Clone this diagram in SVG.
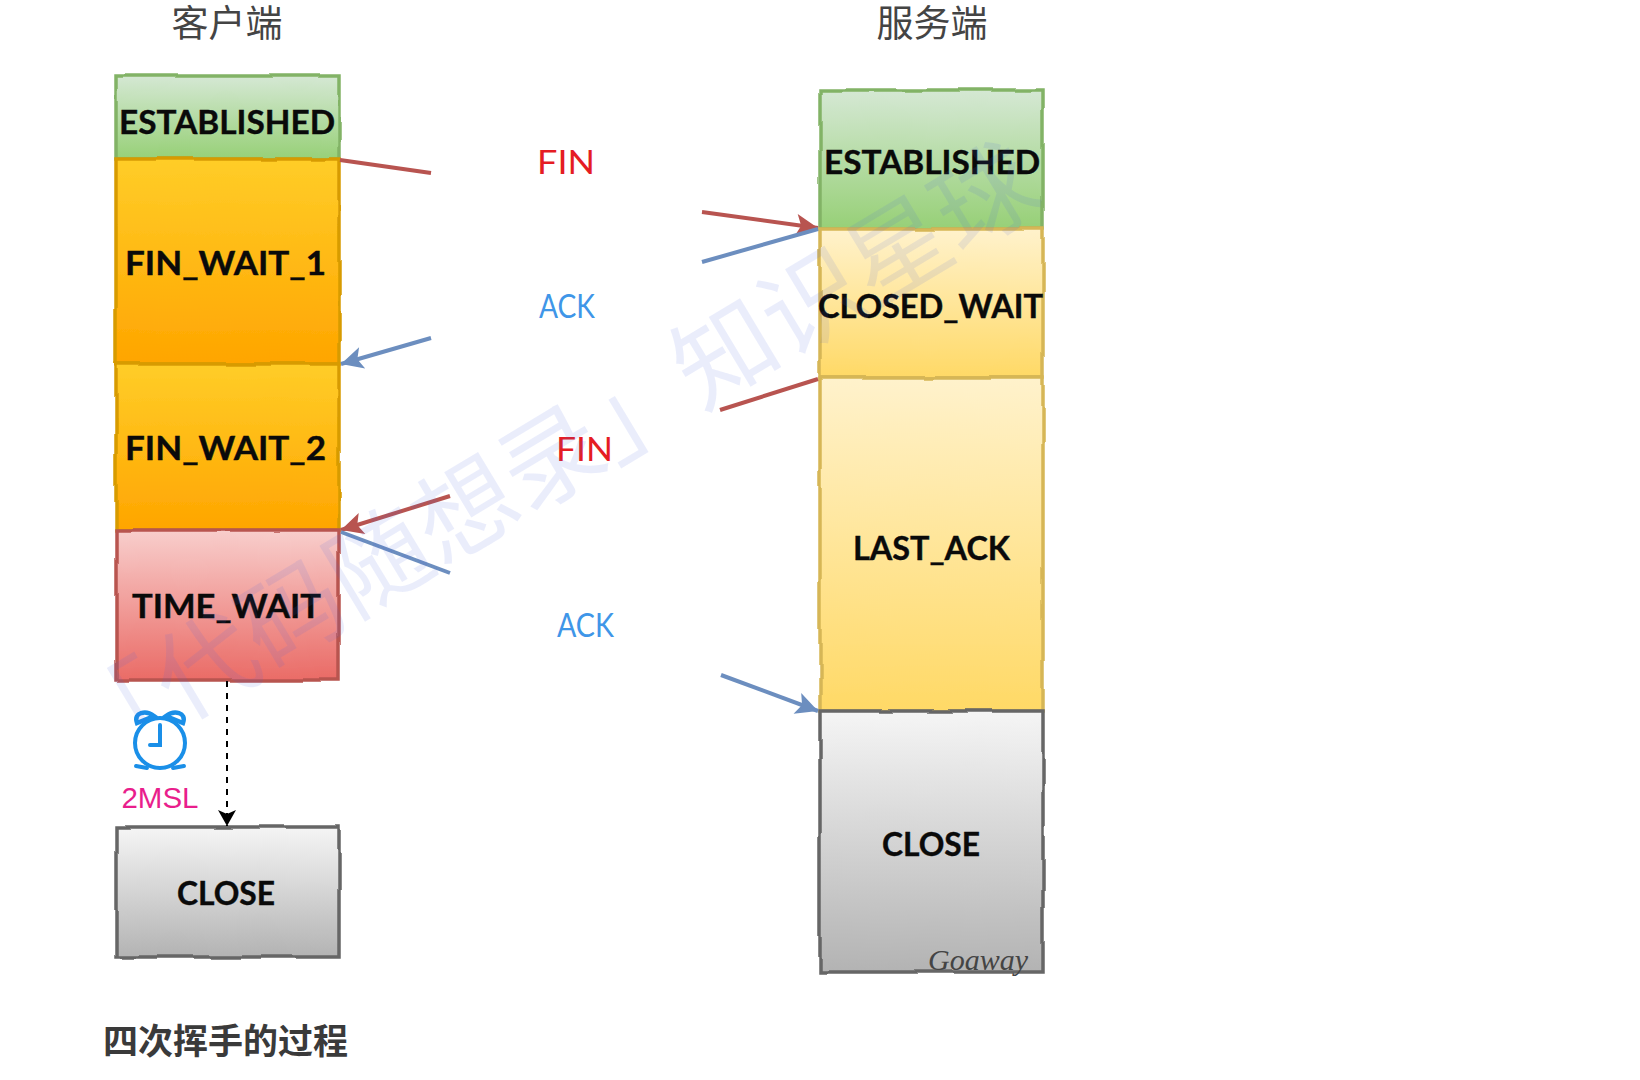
<svg xmlns="http://www.w3.org/2000/svg" width="1640" height="1080" viewBox="0 0 1640 1080">
<style>
.st{font-family:"Comic Sans MS","Lato","DejaVu Sans",sans-serif;font-weight:700;font-size:33px;fill:#0a0a0a;stroke:#0a0a0a;stroke-width:.4px}
.msg{font-family:"Comic Sans MS","Lato","DejaVu Sans",sans-serif;font-size:32px}
.head{font-family:"Noto Sans CJK SC",sans-serif;font-size:37px;fill:#444;text-anchor:middle}
.box{stroke-width:3.5;filter:url(#rough)}
.red{stroke:#b85450;stroke-width:4;fill:none}
.blue{stroke:#6c8ebf;stroke-width:4;fill:none}
</style>
<defs>
<filter id="rough" x="-5%" y="-5%" width="110%" height="110%"><feTurbulence type="fractalNoise" baseFrequency="0.02" numOctaves="1" seed="4"/><feDisplacementMap in="SourceGraphic" scale="5"/></filter>
<linearGradient id="gGreen" x1="0" y1="0" x2="0" y2="1"><stop offset="0" stop-color="#d5e8d4"/><stop offset="1" stop-color="#97d077"/></linearGradient>
<linearGradient id="gOrange" x1="0" y1="0" x2="0" y2="1"><stop offset="0" stop-color="#ffcd28"/><stop offset="1" stop-color="#ffa500"/></linearGradient>
<linearGradient id="gYellow" x1="0" y1="0" x2="0" y2="1"><stop offset="0" stop-color="#fff2cc"/><stop offset="1" stop-color="#ffd966"/></linearGradient>
<linearGradient id="gRed" x1="0" y1="0" x2="0" y2="1"><stop offset="0" stop-color="#f8cecc"/><stop offset="1" stop-color="#ea6b66"/></linearGradient>
<linearGradient id="gGray" x1="0" y1="0" x2="0" y2="1"><stop offset="0" stop-color="#f5f5f5"/><stop offset="1" stop-color="#b3b3b3"/></linearGradient>
<marker id="hRed" markerUnits="userSpaceOnUse" markerWidth="28" markerHeight="26" refX="24" refY="13" orient="auto"><path d="M2,2 L24,13 L2,24 L7,13 Z" fill="#b85450"/></marker>
<marker id="hBlue" markerUnits="userSpaceOnUse" markerWidth="28" markerHeight="26" refX="24" refY="13" orient="auto"><path d="M2,2 L24,13 L2,24 L7,13 Z" fill="#6c8ebf"/></marker>
<marker id="hBlack" markerUnits="userSpaceOnUse" markerWidth="20" markerHeight="20" refX="17" refY="10" orient="auto"><path d="M1,1 L17,10 L1,19 L5,10 Z" fill="#000"/></marker>
</defs>
<rect width="1640" height="1080" fill="#fff"/>
<g id="headers">
<text class="head" x="227" y="37">客户端</text>
<text class="head" x="932" y="37">服务端</text>
</g>
<g id="client-established"><rect class="box" x="116" y="76" width="223" height="83" fill="url(#gGreen)" stroke="#82b366"/><text class="st" x="119" y="134" textLength="216" lengthAdjust="spacingAndGlyphs">ESTABLISHED</text></g>
<g id="client-fin-wait-1"><rect class="box" x="116" y="159" width="223" height="205" fill="url(#gOrange)" stroke="#d79b00"/><text class="st" x="125" y="275" textLength="201" lengthAdjust="spacingAndGlyphs">FIN_WAIT_1</text></g>
<g id="client-fin-wait-2"><rect class="box" x="116" y="364" width="223" height="166" fill="url(#gOrange)" stroke="#d79b00"/><text class="st" x="125" y="460" textLength="201" lengthAdjust="spacingAndGlyphs">FIN_WAIT_2</text></g>
<g id="client-time-wait"><rect class="box" x="116" y="530" width="223" height="150" fill="url(#gRed)" stroke="#b85450"/><text class="st" x="132" y="618" textLength="189" lengthAdjust="spacingAndGlyphs">TIME_WAIT</text></g>
<g id="client-close"><rect class="box" x="116" y="827" width="223" height="130" fill="url(#gGray)" stroke="#666"/><text class="st" x="177" y="905" textLength="98" lengthAdjust="spacingAndGlyphs">CLOSE</text></g>
<g id="server-established"><rect class="box" x="820" y="90" width="223" height="139" fill="url(#gGreen)" stroke="#82b366"/><text class="st" x="824" y="174" textLength="216" lengthAdjust="spacingAndGlyphs">ESTABLISHED</text></g>
<g id="server-closed-wait"><rect class="box" x="820" y="229" width="223" height="149" fill="url(#gYellow)" stroke="#d6b656"/><text class="st" x="818" y="318" textLength="225" lengthAdjust="spacingAndGlyphs">CLOSED_WAIT</text></g>
<g id="server-last-ack"><rect class="box" x="820" y="378" width="223" height="333" fill="url(#gYellow)" stroke="#d6b656"/><text class="st" x="853" y="560" textLength="157" lengthAdjust="spacingAndGlyphs">LAST_ACK</text></g>
<g id="server-close"><rect class="box" x="820" y="711" width="223" height="261" fill="url(#gGray)" stroke="#666"/><text class="st" x="882" y="856" textLength="98" lengthAdjust="spacingAndGlyphs">CLOSE</text></g>
<g id="connectors">
<path class="red" d="M340,160 L431,173"/>
<path class="red" d="M702,212 L818,228" marker-end="url(#hRed)"/>
<path class="blue" d="M818,229 L702,262"/>
<path class="blue" d="M431,338 L341,364" marker-end="url(#hBlue)"/>
<path class="red" d="M818,379 L720,410"/>
<path class="red" d="M450,496 L341,530" marker-end="url(#hRed)"/>
<path class="blue" d="M341,532 L450,573"/>
<path class="blue" d="M721,675 L818,711" marker-end="url(#hBlue)"/>
<path d="M227,681 L227,826" fill="none" stroke="#000" stroke-width="2" stroke-dasharray="6 6" marker-end="url(#hBlack)"/>
</g>
<g id="messages">
<text class="msg" x="537" y="174" fill="#e51c23" textLength="58" lengthAdjust="spacingAndGlyphs">FIN</text>
<text class="msg" x="539" y="318" fill="#3f96e8" textLength="56" lengthAdjust="spacingAndGlyphs">ACK</text>
<text class="msg" x="556" y="461" fill="#e51c23" textLength="57" lengthAdjust="spacingAndGlyphs">FIN</text>
<text class="msg" x="557" y="637" fill="#3f96e8" textLength="57" lengthAdjust="spacingAndGlyphs">ACK</text>
</g>
<g id="timer">
<g fill="none" stroke="#1a8fe8" stroke-width="4" stroke-linecap="round">
<circle cx="160" cy="743" r="25"/>
<path d="M160,725 V745 H150"/>
<path d="M147,768 L136,766 M173,768 L184,766"/>
</g>
<path d="M137,723 C133,712 146,710 154,716 Z M183,723 C187,712 174,710 166,716 Z" fill="none" stroke="#1a8fe8" stroke-width="4.5"/>
<text x="160" y="808" text-anchor="middle" font-family="Liberation Sans, sans-serif" font-size="29.5" fill="#e91e8c">2MSL</text>
</g>
<text id="signature" x="928" y="970" font-family="Liberation Serif, serif" font-style="italic" font-size="30" fill="#444" textLength="100" lengthAdjust="spacingAndGlyphs">Goaway</text>
<text id="watermark" x="552" y="494" transform="rotate(-31 552 458)" text-anchor="middle" font-family="Noto Sans CJK SC, sans-serif" font-size="101" fill="#4a63e0" opacity=".11">「代码随想录」知识星球</text>
<text id="caption" x="103" y="1054" font-family="Noto Sans CJK SC, sans-serif" font-weight="700" font-size="35" fill="#3a3a3a">四次挥手的过程</text>
</svg>
